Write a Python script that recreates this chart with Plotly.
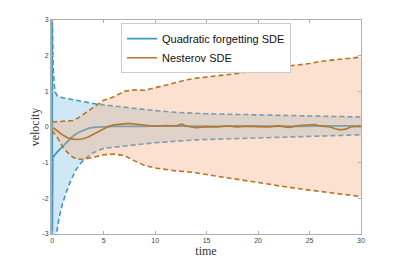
import plotly.graph_objects as go

# ---------------- data ----------------
# Quadratic forgetting SDE
qf_mean_t = [0, 0, 0.05, 0.5, 1, 1.5, 2, 2.5, 3, 3.5, 4, 5, 6, 7, 8, 9, 10, 12, 14, 16, 18, 20, 22, 24, 26, 28, 30]
qf_mean_v = [3, -3, -0.85, -0.7, -0.55, -0.38, -0.26, -0.16, -0.09, -0.04, -0.01, 0.01, 0.02, 0.02, 0.01, 0.02, 0.03, 0.02, 0.03, 0.02, 0.03, 0.02, 0.03, 0.02, 0.03, 0.02, 0.03]
qf_up_t = [0, 0.1, 0.25, 0.5, 1, 2, 3, 4, 5, 7, 10, 12, 15, 20, 25, 30]
qf_up_v = [3, 1.6, 1.0, 0.87, 0.82, 0.76, 0.7, 0.66, 0.62, 0.55, 0.46, 0.41, 0.37, 0.34, 0.31, 0.28]
qf_lo_t = [0, 0.4, 0.7, 1, 1.4, 1.8, 2.3, 2.8, 3.5, 4, 5, 7, 10, 14, 20, 25, 30]
qf_lo_v = [-4.5, -3, -2.5, -2.15, -1.8, -1.5, -1.2, -1.0, -0.82, -0.72, -0.6, -0.53, -0.44, -0.36, -0.3, -0.26, -0.22]

# Nesterov SDE
ns_mean_t = [0, 0.5, 1, 1.5, 2, 2.5, 3, 3.5, 4, 4.5, 5, 5.5, 6, 6.5, 7, 7.5, 8, 9, 10, 11, 12, 12.6, 13, 14, 15, 16, 17, 18, 19, 20, 21, 22, 23, 24, 25, 25.5, 26, 27, 27.5, 28, 28.5, 29, 30]
ns_mean_v = [0, -0.12, -0.22, -0.3, -0.34, -0.35, -0.33, -0.28, -0.2, -0.12, -0.05, 0.02, 0.06, 0.08, 0.1, 0.1, 0.08, 0.05, 0.02, 0.04, 0.03, 0.08, 0.03, -0.02, 0.01, 0.0, 0.03, 0.0, 0.02, 0.01, 0.0, 0.03, -0.01, 0.04, 0.06, 0.07, 0.03, 0.0, -0.05, -0.08, -0.06, 0.0, 0.02]
ns_up_t = [0, 1, 2, 2.5, 3, 3.5, 4, 4.5, 5, 6, 7, 8, 9, 10, 11, 12, 13, 14, 15, 16, 17, 18, 19, 20, 21, 22, 23, 24, 25, 26, 27, 28, 29, 30]
ns_up_v = [0.14, 0.15, 0.18, 0.25, 0.35, 0.47, 0.57, 0.67, 0.75, 0.85, 1.0, 1.04, 1.03, 1.1, 1.18, 1.26, 1.32, 1.37, 1.4, 1.42, 1.45, 1.5, 1.55, 1.6, 1.64, 1.68, 1.71, 1.74, 1.78, 1.84, 1.87, 1.9, 1.93, 1.96]
ns_lo_t = [0, 0.5, 1, 1.5, 2, 2.5, 3, 4, 5, 6, 7, 8, 9, 10, 11, 12, 13, 14, 15, 16, 17, 18, 19, 20, 21, 22, 23, 24, 25, 26, 27, 28, 29, 30]
ns_lo_v = [-0.1, -0.3, -0.55, -0.72, -0.85, -0.9, -0.91, -0.85, -0.78, -0.76, -0.8, -0.95, -1.08, -1.15, -1.2, -1.23, -1.25, -1.28, -1.33, -1.38, -1.42, -1.47, -1.52, -1.56, -1.6, -1.65, -1.7, -1.73, -1.77, -1.81, -1.85, -1.89, -1.93, -1.95]

x_ticks = [0, 5, 10, 15, 20, 25, 30]
y_ticks = [-3, -2, -1, 0, 1, 2, 3]

BLUE = "#3f97c9"
BROWN = "#b57727"
BLUE_FILL = "rgba(120,190,225,0.35)"
PEACH_FILL = "rgba(248,170,120,0.35)"
DASH = "5px,3px"

fig = go.Figure()

# Quadratic forgetting band
fig.add_trace(go.Scatter(x=qf_lo_t, y=qf_lo_v, mode="lines", line=dict(width=0), showlegend=False, hoverinfo="skip"))
fig.add_trace(go.Scatter(x=qf_up_t, y=qf_up_v, mode="lines", line=dict(width=0), fill="tonexty",
                         fillcolor=BLUE_FILL, showlegend=False, hoverinfo="skip"))
fig.add_trace(go.Scatter(x=qf_up_t, y=qf_up_v, mode="lines", line=dict(color=BLUE, width=1.6, dash=DASH), showlegend=False))
fig.add_trace(go.Scatter(x=qf_lo_t, y=qf_lo_v, mode="lines", line=dict(color=BLUE, width=1.6, dash=DASH), showlegend=False))
fig.add_trace(go.Scatter(x=qf_mean_t, y=qf_mean_v, mode="lines", line=dict(color=BLUE, width=1.8),
                         name="Quadratic forgetting SDE"))

# Nesterov band
fig.add_trace(go.Scatter(x=ns_lo_t, y=ns_lo_v, mode="lines", line=dict(width=0), showlegend=False, hoverinfo="skip"))
fig.add_trace(go.Scatter(x=ns_up_t, y=ns_up_v, mode="lines", line=dict(width=0), fill="tonexty",
                         fillcolor=PEACH_FILL, showlegend=False, hoverinfo="skip"))
fig.add_trace(go.Scatter(x=ns_up_t, y=ns_up_v, mode="lines", line=dict(color=BROWN, width=1.6, dash=DASH), showlegend=False))
fig.add_trace(go.Scatter(x=ns_lo_t, y=ns_lo_v, mode="lines", line=dict(color=BROWN, width=1.6, dash=DASH), showlegend=False))
fig.add_trace(go.Scatter(x=ns_mean_t, y=ns_mean_v, mode="lines", line=dict(color=BROWN, width=1.6),
                         name="Nesterov SDE"))

axis_common = dict(showgrid=False, zeroline=False, showline=True, linecolor="#b0b0b0", linewidth=1,
                   mirror="ticks", ticks="inside", ticklen=3, tickcolor="#b0b0b0", automargin=False,
                   tickfont=dict(family="Liberation Sans", size=7, color="#444"))

fig.update_layout(
    width=399, height=263,
    margin=dict(l=43, r=46, t=12, b=37),
    paper_bgcolor="white", plot_bgcolor="white",
    xaxis=dict(range=[-0.12, 30], tickvals=x_ticks, ticktext=[str(v) for v in x_ticks],
               title=dict(text="time", font=dict(family="Liberation Serif", size=12, color="#333"), standoff=0),
               **axis_common),
    yaxis=dict(range=[-3, 3], tickvals=y_ticks, ticktext=[str(v) for v in y_ticks],
               title=dict(text="velocity", font=dict(family="Liberation Serif", size=12, color="#333"), standoff=0),
               **axis_common),
    legend=dict(x=0.226, y=0.985, xanchor="left", yanchor="top", bgcolor="white",
                bordercolor="#cccccc", borderwidth=1, itemwidth=30, traceorder="normal",
                font=dict(family="Liberation Sans", size=11, color="#111"),
                tracegroupgap=0),
    showlegend=True,
)

fig.write_html("out.html")
